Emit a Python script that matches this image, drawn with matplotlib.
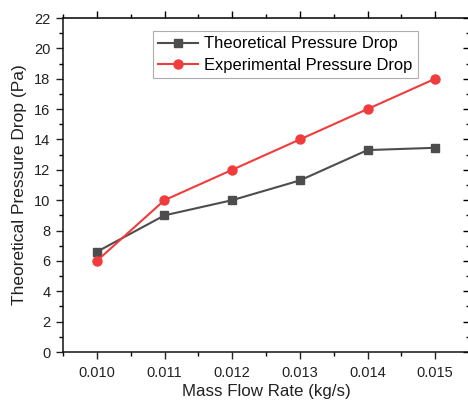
import matplotlib
matplotlib.use("Agg")
import matplotlib.pyplot as plt
from matplotlib.ticker import MultipleLocator, FormatStrFormatter

plt.rcParams['font.family'] = ['Liberation Sans', 'DejaVu Sans']

flow = [0.010, 0.011, 0.012, 0.013, 0.014, 0.015]
theo = [6.6, 9.0, 10.0, 11.3, 13.3, 13.45]
expt = [6.0, 10.0, 12.0, 14.0, 16.0, 18.0]

fig = plt.figure(figsize=(4.68, 4.05), dpi=100)
# right spine sits just off the picture, as in the reference
ax = fig.add_axes([63/468, 53/405, 406/468, 334/405])

ax.plot(flow, theo, color='#4d4d4d', lw=1.5, marker='s', ms=6,
        label='Theoretical Pressure Drop')
ax.plot(flow, expt, color='#f03c3c', lw=1.5, marker='o', ms=6.5,
        label='Experimental Pressure Drop')

ax.set_xlim(0.0095, 0.0155)
ax.set_ylim(0, 22)
ax.xaxis.set_major_locator(MultipleLocator(0.001))
ax.xaxis.set_minor_locator(MultipleLocator(0.0005))
ax.xaxis.set_major_formatter(FormatStrFormatter('%.3f'))
ax.yaxis.set_major_locator(MultipleLocator(2))
ax.yaxis.set_minor_locator(MultipleLocator(1))

ax.tick_params(which='major', direction='out', length=5, width=1,
               labelsize=10.5, colors='#222222', pad=4)
ax.tick_params(which='minor', direction='out', length=3, width=1)
ax.tick_params(axis='x', pad=5)

for s in ['top', 'right']:
    ax.spines[s].set_visible(False)
for s in ['left', 'bottom']:
    ax.spines[s].set_linewidth(1.1)
    ax.spines[s].set_color('#111111')

top = ax.secondary_xaxis('top')
top.xaxis.set_major_locator(MultipleLocator(0.001))
top.xaxis.set_minor_locator(MultipleLocator(0.0005))
top.tick_params(which='major', direction='out', length=5, width=1, labeltop=False)
top.tick_params(which='minor', direction='out', length=3, width=1)
top.spines['top'].set_linewidth(1.1)

right = ax.secondary_yaxis('right')
right.yaxis.set_major_locator(MultipleLocator(2))
right.yaxis.set_minor_locator(MultipleLocator(1))
right.tick_params(which='major', direction='in', length=4, width=1, labelright=False)
right.tick_params(which='minor', direction='in', length=2, width=1)
right.spines['right'].set_linewidth(1.1)

ax.set_xlabel('Mass Flow Rate (kg/s)', fontsize=12.2, color='#222222', labelpad=3)
ax.set_ylabel('Theoretical Pressure Drop (Pa)', fontsize=12.5, color='#222222', labelpad=5)

leg = ax.legend(loc='upper left', bbox_to_anchor=(0.222, 0.96), fontsize=11.9,
                frameon=True, fancybox=False, edgecolor='#999999',
                handlelength=2.4, borderpad=0.3, labelspacing=0.4,
                handletextpad=0.4, borderaxespad=0)
leg.get_frame().set_linewidth(0.8)

fig.savefig('out.png', dpi=100)
